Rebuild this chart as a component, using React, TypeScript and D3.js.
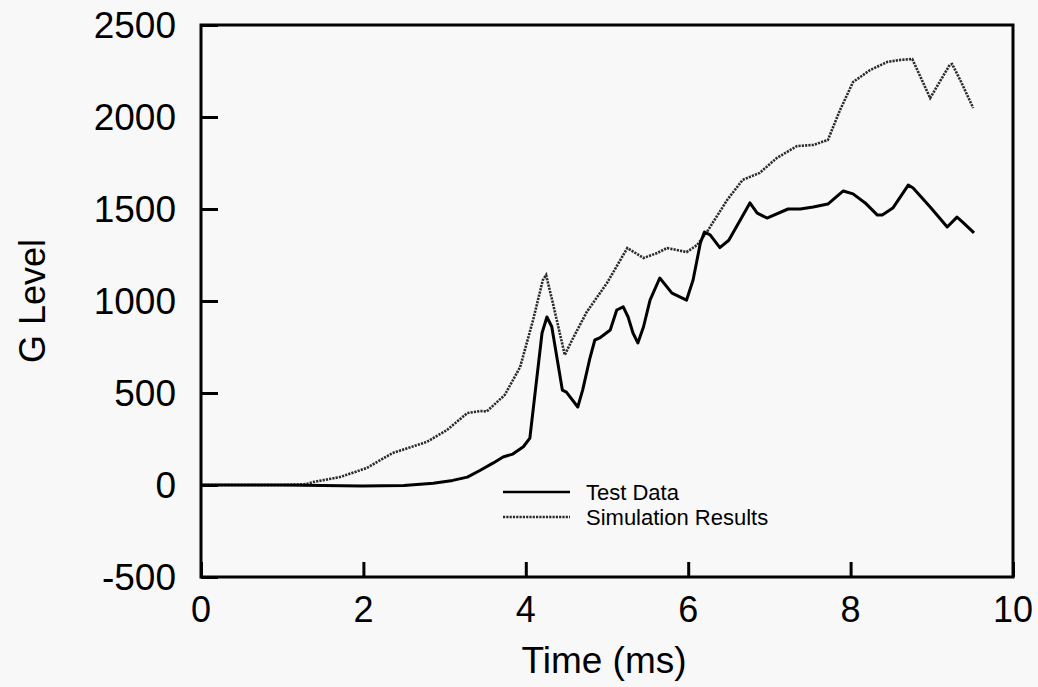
import React, { useEffect, useRef } from 'react';
import * as d3 from 'd3';

// values
const testTime = [0, 0.5, 1, 1.5, 1.98, 2.5, 2.86, 3.1, 3.28, 3.44, 3.6, 3.72, 3.84, 3.97, 4.05, 4.2, 4.26, 4.32, 4.45, 4.5, 4.64, 4.7, 4.79, 4.85, 4.91, 5.04, 5.12, 5.2, 5.26, 5.32, 5.38, 5.45, 5.53, 5.65, 5.8, 5.98, 6.06, 6.15, 6.2, 6.27, 6.39, 6.5, 6.76, 6.85, 6.97, 7.23, 7.38, 7.54, 7.72, 7.91, 8.03, 8.18, 8.33, 8.39, 8.52, 8.71, 8.77, 8.98, 9.19, 9.31, 9.38, 9.52];
const testG = [0, 0, 0, -3, -5, -3, 10, 25, 43, 80, 120, 152, 168, 208, 255, 826, 913, 860, 516, 505, 424, 516, 690, 788, 799, 842, 951, 968, 913, 826, 772, 860, 1005, 1125, 1043, 1005, 1114, 1315, 1375, 1359, 1290, 1330, 1533, 1478, 1451, 1500, 1500, 1511, 1527, 1598, 1582, 1533, 1467, 1467, 1505, 1630, 1614, 1511, 1402, 1456, 1429, 1370];

const simTime = [0, 0.5, 1, 1.3, 1.38, 1.71, 2.04, 2.36, 2.78, 3.03, 3.28, 3.44, 3.52, 3.74, 3.93, 4.09, 4.21, 4.25, 4.33, 4.48, 4.57, 4.75, 5.0, 5.25, 5.45, 5.62, 5.74, 5.98, 6.11, 6.23, 6.48, 6.67, 6.88, 7.09, 7.34, 7.54, 7.72, 7.87, 8.03, 8.24, 8.45, 8.61, 8.76, 8.98, 9.22, 9.25, 9.35, 9.51];
const simG = [0, 0, 0, 5, 16, 43, 92, 174, 234, 299, 391, 402, 400, 489, 641, 897, 1114, 1141, 995, 707, 788, 940, 1098, 1288, 1234, 1261, 1288, 1266, 1304, 1375, 1549, 1658, 1696, 1777, 1842, 1848, 1875, 2038, 2190, 2255, 2299, 2310, 2315, 2103, 2283, 2288, 2201, 2049];

const xTicks = [0, 2, 4, 6, 8, 10];
const yTicks = [-500, 0, 500, 1000, 1500, 2000, 2500];
const seriesNames = ['Test Data', 'Simulation Results'];

const W = 1038;
const H = 687;
const font = '"Liberation Sans", Arial, Helvetica, sans-serif';
const simStroke = '#2a2a2a';
const simDash = '2.2 1.1';

const Chart = () => {
  const ref = useRef<SVGSVGElement>(null);

  useEffect(() => {
    const svg = d3.select(ref.current);
    svg.selectAll('*').remove();

    const left = 201, right = 1013, top = 25, bottom = 577;

    const x = d3.scaleLinear().domain([0, 10]).range([left, right]);
    const y = d3.scaleLinear().domain([-500, 2500]).range([bottom, top]);

    svg.append('rect').attr('width', W).attr('height', H).attr('fill', '#f8f8f8');

    const line = d3.line<[number, number]>()
      .x(d => x(d[0]))
      .y(d => y(d[1]));

    const simData = simTime.map((t, i) => [t, simG[i]] as [number, number]);
    const testData = testTime.map((t, i) => [t, testG[i]] as [number, number]);

    svg.append('path')
      .datum(simData)
      .attr('d', line)
      .attr('fill', 'none')
      .attr('stroke', simStroke)
      .attr('stroke-width', 2.6)
      .attr('stroke-dasharray', simDash);

    svg.append('path')
      .datum(testData)
      .attr('d', line)
      .attr('fill', 'none')
      .attr('stroke', '#000')
      .attr('stroke-width', 3)
      .attr('stroke-linejoin', 'round');

    // frame
    svg.append('rect')
      .attr('x', left).attr('y', top)
      .attr('width', right - left).attr('height', bottom - top)
      .attr('fill', 'none').attr('stroke', '#000').attr('stroke-width', 3);

    // inward ticks
    const xAxis = d3.axisBottom(x).tickValues(xTicks).tickSize(-15).tickFormat(() => '');
    const yAxis = d3.axisLeft(y).tickValues(yTicks).tickSize(-17).tickFormat(() => '');

    const gx = svg.append('g').attr('transform', `translate(0,${bottom})`).call(xAxis);
    const gy = svg.append('g').attr('transform', `translate(${left},0)`).call(yAxis);
    [gx, gy].forEach(g => {
      g.select('.domain').remove();
      g.selectAll('line').attr('stroke', '#000').attr('stroke-width', 3);
    });

    svg.append('g').selectAll('text')
      .data(xTicks).enter().append('text')
      .attr('x', d => x(d)).attr('y', 622)
      .attr('text-anchor', 'middle')
      .attr('font-family', font).attr('font-size', 36)
      .text(d => String(d));

    svg.append('g').selectAll('text')
      .data(yTicks).enter().append('text')
      .attr('x', 176).attr('y', d => y(d) + 13)
      .attr('text-anchor', 'end')
      .attr('font-family', font).attr('font-size', 37)
      .text(d => String(d));

    svg.append('text')
      .attr('x', 604).attr('y', 673)
      .attr('text-anchor', 'middle')
      .attr('font-family', font).attr('font-size', 37)
      .text('Time (ms)');

    svg.append('text')
      .attr('transform', 'translate(45,301) rotate(-90)')
      .attr('text-anchor', 'middle')
      .attr('font-family', font).attr('font-size', 36)
      .text('G Level');

    // legend
    const legend = svg.append('g');
    seriesNames.forEach((name, i) => {
      const ly = 492 + i * 25;
      legend.append('line')
        .attr('x1', 503).attr('x2', 570).attr('y1', ly).attr('y2', ly)
        .attr('stroke', i === 0 ? '#000' : simStroke)
        .attr('stroke-width', i === 0 ? 2.5 : 2.6)
        .attr('stroke-dasharray', i === 0 ? null : simDash);
      legend.append('text')
        .attr('x', 586).attr('y', ly + 8)
        .attr('font-family', font).attr('font-size', 22)
        .text(name);
    });
  }, []);

  return <svg ref={ref} width={W} height={H} style={{ position: 'absolute', left: 0, top: 0, display: 'block' }}></svg>;
};

export default function App() {
  return <Chart />;
}
